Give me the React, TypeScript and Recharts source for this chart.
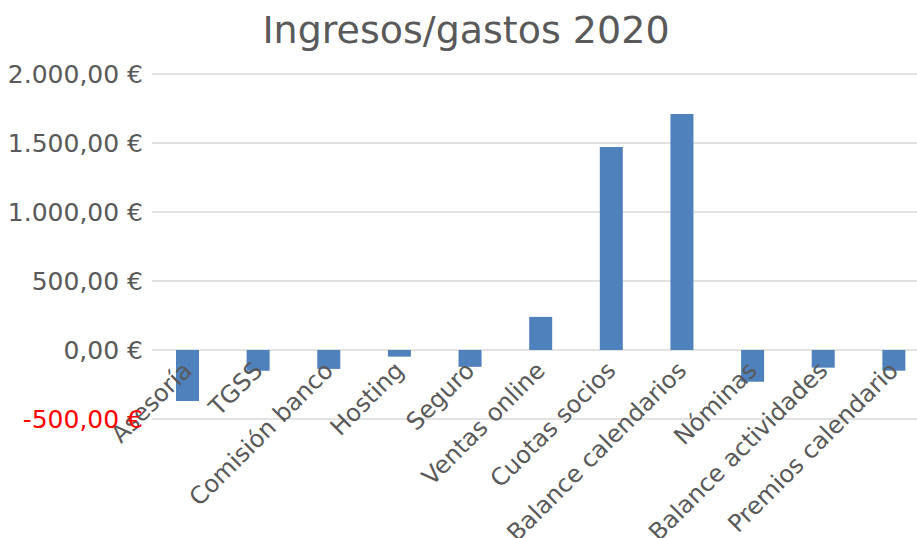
import React from 'react';
import { BarChart, Bar, XAxis, YAxis, CartesianGrid } from 'recharts';

const categories = [
  'Asesoría',
  'TGSS',
  'Comisión banco',
  'Hosting',
  'Seguro',
  'Ventas online',
  'Cuotas socios',
  'Balance calendarios',
  'Nóminas',
  'Balance actividades',
  'Premios calendario',
];
const amounts = [-370, -150, -137, -48, -122, 240, 1471, 1710, -230, -128, -150];
const yTicks = [-500, 0, 500, 1000, 1500, 2000];

const data = categories.map((name, i) => ({ name, value: amounts[i] }));

const W = 929;
const H = 538;
const TOP = 74;
const BOTTOM = 419;
const LEFT = 152;
const FONT = 'DejaVu Sans, sans-serif';
const TEXT = '#595959';

// y of the zero line, so category labels sit under it like in Excel
const zeroY = TOP + ((2000 - 0) / 2500) * (BOTTOM - TOP);

const fmt = (v: number) => {
  const s = Math.abs(v).toFixed(2).split('.');
  const int = s[0].replace(/\B(?=(\d{3})+(?!\d))/g, '.');
  return `${v < 0 ? '-' : ''}${int},${s[1]} €`;
};

const YTick = ({ y, payload }: any) => (
  <text
    x={LEFT - 9}
    y={y}
    textAnchor="end"
    dominantBaseline="central"
    fontSize={25}
    fontFamily={FONT}
    fill={payload.value < 0 ? '#FF0000' : TEXT}
  >
    {fmt(payload.value)}
  </text>
);

const XTick = ({ x, payload }: any) => {
  const ax = x + 6;
  const ay = zeroY + 22;
  return (
    <text
      x={ax}
      y={ay}
      textAnchor="end"
      fontSize={24}
      fontFamily={FONT}
      fill={TEXT}
      transform={`rotate(-45, ${ax}, ${ay})`}
    >
      {payload.value}
    </text>
  );
};

export default function App() {
  return (
    <div
      style={{
        position: 'absolute',
        left: 0,
        top: 0,
        width: 917,
        height: H,
        overflow: 'hidden',
        background: '#fff',
      }}
    >
      <BarChart
        width={W}
        height={H}
        data={data}
        margin={{ top: TOP, right: 0, left: 0, bottom: H - BOTTOM - 1 }}
        style={{ fontFamily: FONT }}
      >
        <text x={466} y={43} textAnchor="middle" fontSize={38} fontFamily={FONT} fill={TEXT}>
          Ingresos/gastos 2020
        </text>
        <CartesianGrid vertical={false} stroke="#D9D9D9" strokeWidth={1.5} />
        <XAxis
          dataKey="name"
          height={1}
          interval={0}
          axisLine={false}
          tickLine={false}
          tick={<XTick />}
        />
        <YAxis
          width={LEFT}
          domain={[-500, 2000]}
          ticks={yTicks}
          axisLine={false}
          tickLine={false}
          tick={<YTick />}
        />
        <Bar dataKey="value" fill="#4F81BD" barSize={23} isAnimationActive={false} />
      </BarChart>
    </div>
  );
}
